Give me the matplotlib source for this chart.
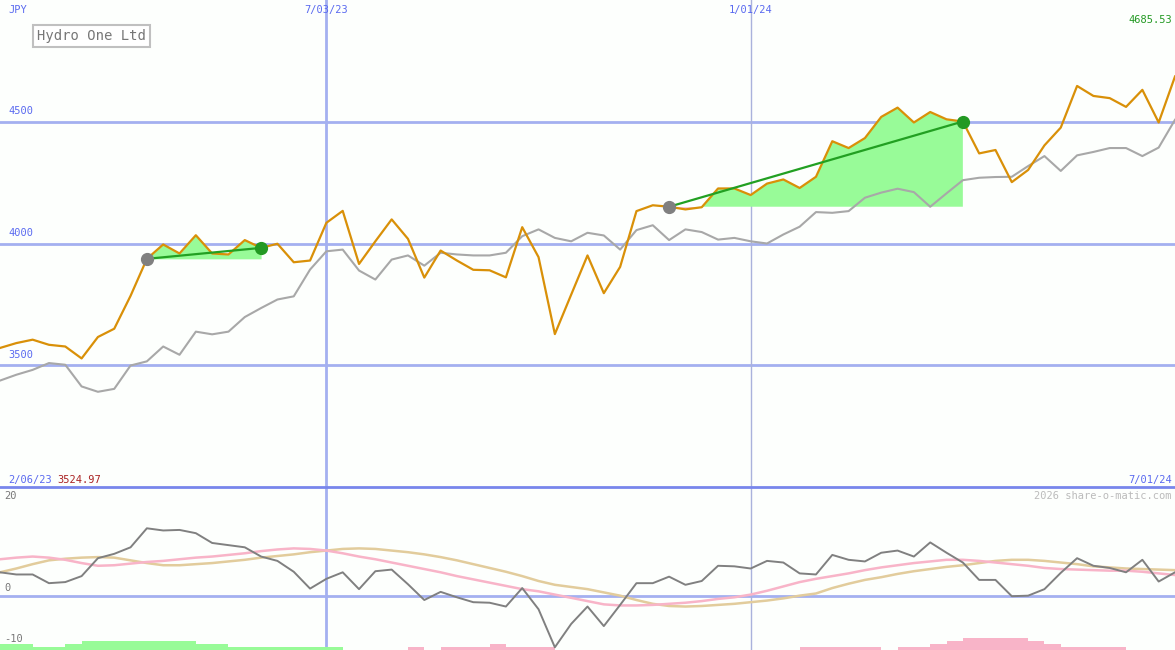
import numpy as np
import matplotlib.pyplot as plt
from matplotlib.transforms import blended_transform_factory

# weekly closes (JPY), 13 Feb 2023 .. 1 Jul 2024
price = [3571, 3591, 3605, 3584, 3577, 3528, 3616, 3650, 3785, 3937,
         3996, 3959, 4034, 3959, 3955, 4014, 3982, 3999, 3923, 3930,
         4085, 4134, 3916, 4009, 4099, 4019, 3860, 3971, 3930, 3892,
         3890, 3861, 4067, 3944, 3628, 3790, 3951, 3796, 3904, 4133,
         4157, 4151, 4140, 4149, 4226, 4226, 4199, 4246, 4263, 4228,
         4274, 4420, 4392, 4433, 4520, 4558, 4497, 4540, 4510, 4501,
         4370, 4384, 4252, 4302, 4403, 4476, 4647, 4606, 4597, 4561,
         4631, 4497, 4686]

# moving average (grey)
avg = [3437, 3461, 3481, 3509, 3502, 3413, 3391, 3403, 3499, 3516,
       3577, 3543, 3638, 3627, 3638, 3698, 3735, 3770, 3783, 3893,
       3968, 3975, 3889, 3852, 3934, 3951, 3909, 3962, 3955, 3951,
       3951, 3962, 4030, 4058, 4023, 4009, 4044, 4033, 3975, 4055,
       4075, 4014, 4058, 4047, 4016, 4023, 4009, 4000, 4037, 4069,
       4129, 4126, 4133, 4188, 4209, 4225, 4211, 4151, 4206, 4260,
       4270, 4273, 4274, 4318, 4359, 4298, 4362, 4376, 4392, 4392,
       4359, 4394, 4508]

# lower panel: oscillator and its two smoothed lines
osc = [4.3, 3.9, 3.9, 2.3, 2.5, 3.6, 6.9, 7.7, 8.9, 12.4,
       12.0, 12.1, 11.5, 9.7, 9.3, 8.9, 7.2, 6.4, 4.4, 1.3,
       3.1, 4.3, 1.2, 4.5, 4.8, 2.1, -0.8, 0.7, -0.3, -1.2,
       -1.3, -2.0, 1.4, -2.5, -9.5, -5.2, -2.0, -5.6, -1.7, 2.3,
       2.3, 3.5, 2.0, 2.7, 5.5, 5.4, 5.0, 6.4, 6.1, 4.1,
       3.9, 7.5, 6.6, 6.3, 7.9, 8.3, 7.2, 9.8, 7.9, 6.1,
       2.9, 2.9, -0.1, 0.0, 1.2, 4.2, 6.9, 5.5, 5.1, 4.3,
       6.6, 2.6, 4.3]

sig_pink = [6.7, 7.0, 7.2, 7.0, 6.6, 6.0, 5.5, 5.6, 5.9, 6.2,
            6.4, 6.7, 7.0, 7.2, 7.5, 7.8, 8.2, 8.5, 8.7, 8.6,
            8.3, 7.8, 7.2, 6.7, 6.1, 5.5, 4.9, 4.3, 3.6, 3.0,
            2.4, 1.8, 1.2, 0.8, 0.2, -0.4, -1.0, -1.6, -1.8, -1.8,
            -1.7, -1.5, -1.3, -1.0, -0.6, -0.3, 0.2, 0.9, 1.7, 2.5,
            3.1, 3.6, 4.1, 4.7, 5.2, 5.6, 6.0, 6.3, 6.6, 6.6,
            6.4, 6.1, 5.8, 5.5, 5.1, 4.9, 4.8, 4.7, 4.6, 4.6,
            4.4, 4.1, 3.8]

sig_tan = [4.3, 5.0, 5.8, 6.5, 6.8, 7.0, 7.1, 7.0, 6.5, 6.0,
           5.6, 5.6, 5.8, 6.0, 6.3, 6.6, 7.0, 7.3, 7.6, 8.0,
           8.3, 8.6, 8.7, 8.6, 8.3, 8.0, 7.6, 7.1, 6.5, 5.8,
           5.1, 4.4, 3.6, 2.7, 2.0, 1.6, 1.2, 0.6, 0.0, -0.8,
           -1.5, -1.9, -2.0, -1.9, -1.7, -1.5, -1.2, -0.9, -0.5, 0.0,
           0.4, 1.4, 2.2, 2.9, 3.4, 4.0, 4.5, 4.9, 5.3, 5.6,
           6.0, 6.4, 6.6, 6.6, 6.4, 6.1, 5.8, 5.4, 5.2, 5.0,
           4.9, 4.8, 4.7]

# histogram along the bottom (positive green, negative pink)
hist = [1.1, 1.1, 0.55, 0.55, 1.1, 1.65, 1.65, 1.65, 1.65, 1.65,
        1.65, 1.65, 1.1, 1.1, 0.55, 0.55, 0.55, 0.55, 0.55, 0.55,
        0.55, 0, 0, 0, 0, -0.55, 0, -0.55, -0.55, -0.55,
        -1.1, -0.55, -0.55, -0.55, 0, 0, 0, 0, 0, 0,
        0, 0, 0, 0, 0, 0, 0, 0, 0, -0.55,
        -0.55, -0.55, -0.55, -0.55, 0, -0.55, -0.55, -1.1, -1.65, -2.2,
        -2.2, -2.2, -2.2, -1.65, -1.1, -0.55, -0.55, -0.55, -0.55, 0,
        0, 0, 0]

trend_segments = [(9, 16), (41, 59)]
date_idx = [20, 46]
date_labels = ['7/03/23', '1/01/24']
price_ticks = [3500, 4000, 4500]

x = np.arange(len(price))
price = np.array(price, dtype=float)

W, H = 1175, 650
bg = '#fdfffd'
grid_c = '#a4b0f0'
blue_txt = '#5a6af0'
mono = 'DejaVu Sans Mono'

fig = plt.figure(figsize=(W / 100, H / 100), dpi=100, facecolor=bg)
split = 163 / H
ax = fig.add_axes([0, split, 1, 1 - split], facecolor=bg)
ax2 = fig.add_axes([0, 0, 1, split], facecolor=bg)

for a in (ax, ax2):
    a.set_xlim(0, len(price) - 1)
    a.set_xticks([])
    a.set_yticks([])
    for s in a.spines.values():
        s.set_visible(False)

# ---- main panel
ax.set_ylim(3000, 5000)
for v in price_ticks:
    ax.axhline(v, color=grid_c, lw=2, zorder=1)
    ax.text(0.007, v + 22, str(v), transform=blended_transform_factory(ax.transAxes, ax.transData),
            color=blue_txt, fontsize=7.5, family=mono, va='bottom', ha='left')
ax.axvline(date_idx[0], color=grid_c, lw=2, zorder=1)
ax.axvline(date_idx[1], color='#aab2dc', lw=1, zorder=1)
top = blended_transform_factory(ax.transData, ax.transAxes)
for i, lab in zip(date_idx, date_labels):
    ax.text(i, 0.99, lab, transform=top, color=blue_txt, fontsize=7.5, family=mono,
            ha='center', va='top')

for a0, a1 in trend_segments:
    xs = x[a0:a1 + 1]
    ps = price[a0:a1 + 1]
    base = price[a0]
    ax.fill_between(xs, base, ps, where=ps >= base, interpolate=True,
                    color='#98fb98', lw=0, zorder=2)
    ax.fill_between(xs, base, ps, where=ps < base, interpolate=True,
                    color='#f8b4c8', lw=0, zorder=2)

ax.plot(x, avg, color='#a8a8a8', lw=1.5, zorder=3)
ax.plot(x, price, color='#d99008', lw=1.6, zorder=4)

for a0, a1 in trend_segments:
    ax.plot([a0, a1], [price[a0], price[a1]], color='#22a022', lw=1.6, zorder=5)
    ax.plot(a0, price[a0], 'o', color='#808080', ms=8.5, zorder=6)
    ax.plot(a1, price[a1], 'o', color='#229922', ms=8.5, zorder=6)

# ---- lower panel
ax2.set_ylim(-10, 20)
ax2.axhline(0, color=grid_c, lw=2, zorder=1)
ax2.axvline(date_idx[0], color=grid_c, lw=2, zorder=1)
ax2.axvline(date_idx[1], color='#aab2dc', lw=1, zorder=1)
hist = np.array(hist)
ax2.bar(x, np.abs(hist), width=1, align='edge', bottom=-10,
        color=np.where(hist > 0, '#98fb98', '#f8b4c8'), lw=0, zorder=2)
ax2.plot(x, sig_tan, color='#e2cc9c', lw=1.8, zorder=3)
ax2.plot(x, sig_pink, color='#f8b4c8', lw=1.8, zorder=3)
ax2.plot(x, osc, color='#808080', lw=1.4, zorder=4)

# border between panels
ax2.axhline(20, color='#7886ec', lw=2, zorder=7, clip_on=False)

left2 = blended_transform_factory(ax2.transAxes, ax2.transData)
for v, yy in [(20, 19.2), (0, 0.5), (-10, -8.9)]:
    ax2.text(0.004, yy, str(v), transform=left2, color='#777777', fontsize=7.5,
             family=mono, va='bottom' if v != 20 else 'top', ha='left')

# ---- text labels
def ftxt(px, py, s, **kw):
    fig.text(px / W, 1 - py / H, s, family=mono, **kw)

ftxt(8, 10, 'JPY', color=blue_txt, fontsize=7.5, va='center')
ftxt(1172, 20, '4685.53', color='#229922', fontsize=7.5, va='center', ha='right')
ftxt(8, 480, '2/06/23', color=blue_txt, fontsize=7.5, va='center')
ftxt(57, 480, '3524.97', color='#aa2222', fontsize=7.5, va='center')
ftxt(1172, 480, '7/01/24', color=blue_txt, fontsize=7.5, va='center', ha='right')
ftxt(1172, 496, '2026 share-o-matic.com', color='#bbbbbb', fontsize=7.5, va='center', ha='right')
ftxt(37, 36, 'Hydro One Ltd', color='#777777', fontsize=10, va='center',
     bbox=dict(boxstyle='square,pad=0.3', fc='white', ec='#c0c0c0', lw=1.5))

fig.savefig('out.png', dpi=100, facecolor=bg)
